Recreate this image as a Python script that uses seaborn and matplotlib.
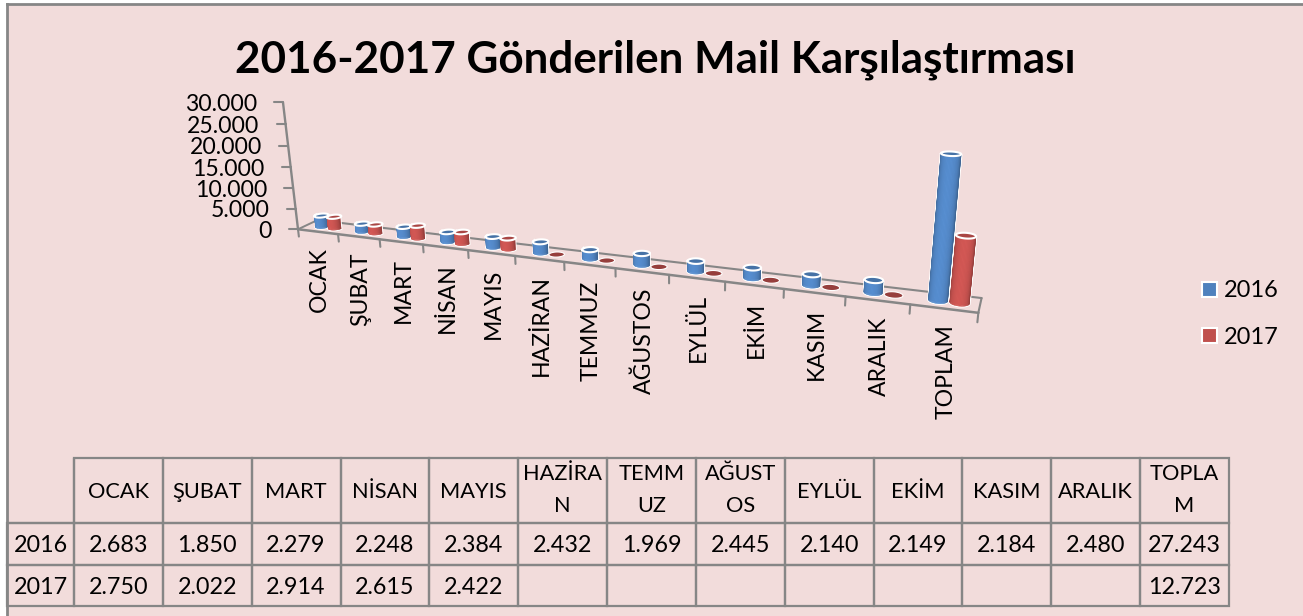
import numpy as np
import pandas as pd
import seaborn as sns
import matplotlib
matplotlib.use("Agg")
import matplotlib.pyplot as plt
from matplotlib.patches import Polygon, Patch
from matplotlib.transforms import Transform
from matplotlib.colors import to_rgb

# ---------- data ----------
months = ["OCAK", "ŞUBAT", "MART", "NİSAN", "MAYIS", "HAZİRAN", "TEMMUZ",
          "AĞUSTOS", "EYLÜL", "EKİM", "KASIM", "ARALIK", "TOPLAM"]
months_wrapped = ["OCAK", "ŞUBAT", "MART", "NİSAN", "MAYIS", "HAZİRA\nN", "TEMM\nUZ",
                  "AĞUST\nOS", "EYLÜL", "EKİM", "KASIM", "ARALIK", "TOPLA\nM"]
values_2016 = [2683, 1850, 2279, 2248, 2384, 2432, 1969, 2445, 2140, 2149, 2184, 2480, 27243]
values_2017 = [2750, 2022, 2914, 2615, 2422, None, None, None, None, None, None, None, 12723]
years = ["2016", "2017"]
y_ticks = [0, 5000, 10000, 15000, 20000, 25000, 30000]
title = "2016-2017 Gönderilen Mail Karşılaştırması"

# ---------- style ----------
W, H = 1303, 616
PINK, GRAY = "#F2DCDB", "#868686"
COLORS = ["#4F81BD", "#C0504D"]
sns.set_theme(style="white")
FONT = "Lato"
plt.rcParams["font.family"] = [FONT, "DejaVu Sans"]
TITLE_SIZE, AXIS_SIZE, TICK_SIZE, HEAD_SIZE, CELL_SIZE, LEGEND_SIZE = 31.7, 16.6, 16.6, 15.7, 16.8, 17


def fmt(v):
    return "" if v is None else f"{v:,}".replace(",", ".")


# ---------- perspective of the 3-D chart: (category pos, depth, value/max) -> pixel ----------
calib = [((0, 0, 0), (298, 230)), ((13, 0, 0), (979, 313)), ((0, 1, 0), (317, 222)),
         ((13, 1, 0), (983, 297)), ((12, 0, 0), (911, 305)), ((6, 0, 0), (564, 262)),
         ((0, 0, 1), (283, 102)), ((12.38, .5, .908), (952, 154)), ((12.7, .5, .424), (964, 236)),
         ((12.38, .5, 0), (938, 300)), ((12.7, .5, 0), (958, 303)), ((.38, .5, 0), (323, 224))]
A, b = [], []
for (t, d, z), (px, py) in calib:
    A.append([t, d, z, 1, 0, 0, 0, 0, -px * t, -px * d, -px * z]); b.append(px)
    A.append([0, 0, 0, 0, t, d, z, 1, -py * t, -py * d, -py * z]); b.append(py)
m = np.linalg.lstsq(np.array(A, float), np.array(b, float), rcond=None)[0]
P = np.array([m[:4], m[4:8], [m[8], m[9], m[10], 1.0]])


def project(t, d, z):
    t, d, z = np.broadcast_arrays(np.asarray(t, float), np.asarray(d, float), np.asarray(z, float))
    q = np.stack([t, d, z, np.ones_like(t)], axis=-1) @ P.T
    return q[..., :2] / q[..., 2:]


Y_MAX = y_ticks[-1]
T_SHIFT = 0.54   # the pair of columns sits slightly right of the category centre


class BarProjection(Transform):
    """Maps seaborn's bar coordinates (category x, value) on to the 3-D chart."""
    input_dims = output_dims = 2

    def transform_non_affine(self, values):
        v = np.asarray(values, float)
        return project(v[:, 0] + T_SHIFT, 0.5, v[:, 1] / Y_MAX)


# ---------- figure ----------
fig = plt.figure(figsize=(W / 100, H / 100), dpi=100, facecolor="white")
ax = fig.add_axes([7 / W, 0, (W - 7) / W, (H - 4) / H])
long = pd.DataFrame({
    "month": months * 2,
    "value": [v or 0 for v in values_2016] + [v or 0 for v in values_2017],
    "year": [years[0]] * len(months) + [years[1]] * len(months),
})
sns.barplot(data=long, x="month", y="value", hue="year", palette=COLORS, hue_order=years,
            order=months, width=0.64, gap=0.1, saturation=1, errorbar=None, legend=False, ax=ax)
ax.set_xlim(7, W); ax.set_ylim(H, 4)
ax.set_xticks([]); ax.set_yticks([]); ax.set_xlabel(""); ax.set_ylabel("")
ax.set_facecolor(PINK)
for s, vis in {"top": True, "left": True, "right": False, "bottom": False}.items():
    ax.spines[s].set_visible(vis); ax.spines[s].set_color(GRAY); ax.spines[s].set_linewidth(2)


def line3(p, q, lw=1.6, z=2):
    a, c = project(*p), project(*q)
    ax.plot([a[0], c[0]], [a[1], c[1]], color=GRAY, lw=lw, zorder=z, solid_capstyle="round")


# axes of the chart
n = len(months)
line3((0, 0, 0), (n, 0, 0), 1.8)
line3((0, 0, 0), (0, 1, 0), 1.4)
line3((0, 1, 0), (n, 1, 0), 1.5)
line3((n, 0, 0), (n, 1, 0), 1.5)
line3((0, 0, 0), (0, 0, 1), 1.7)
for i in range(n + 1):
    line3((i, 0, 0), (i, 0, -0.06), 1.5)
for i, name in enumerate(months):
    x, y = project(i + .5, 0, 0)
    ax.text(x + 2, y + 16, name, rotation=90, ha="center", va="top", fontsize=AXIS_SIZE, color="black")
for tick in y_ticks:
    x, y = project(0, 0, tick / Y_MAX)
    ax.plot([x, x - 9], [y, y], color=GRAY, lw=1.5, zorder=2)
    ax.text(x - 26, y, fmt(tick), ha="right", va="center_baseline", fontsize=TICK_SIZE, color="black")


# ---------- cylinders built around seaborn's bars ----------
def shade(col, f):
    c = np.array(to_rgb(col))
    return tuple(np.clip(c * f, 0, 1))


RD = 0.22
th = np.linspace(0, 2 * np.pi, 61)
front = np.linspace(np.pi, 2 * np.pi, 25)
order = 3
bars = sorted(ax.patches, key=lambda b: b.get_x())
proj_tr = BarProjection() + ax.transData
for bar in bars:
    r = bar.get_width() / 2
    cx = bar.get_x() + r + T_SHIFT
    z = bar.get_height() / Y_MAX
    col = bar.get_facecolor()[:3]
    order += 1
    if z == 0:
        bar.set_visible(False)
        disc = project(cx + r * np.cos(th), .5 + RD * np.sin(th), 0)
        ax.add_patch(Polygon(disc, closed=True, facecolor=shade(col, .78), edgecolor="white", lw=.8, zorder=order))
        continue
    base_f = project(cx + r * np.cos(front), .5 + RD * np.sin(front), 0)
    top_f = project(cx + r * np.cos(front), .5 + RD * np.sin(front), z)
    top_all = project(cx + r * np.cos(th), .5 + RD * np.sin(th), z)
    sil = np.vstack([base_f, top_f[::-1]])
    ax.add_patch(Polygon(sil, closed=True, facecolor=col, edgecolor="white", lw=1.8, zorder=order))
    bar.set_transform(proj_tr)
    bar.set_zorder(order + .1)
    bar.set_linewidth(0)
    for k in range(len(front) - 1):
        u = (k + .5) / (len(front) - 1)
        f = 0.74 + 0.36 * np.sin(np.pi * u) ** 0.8
        quad = np.vstack([base_f[k:k + 2], top_f[k:k + 2][::-1]])
        ax.add_patch(Polygon(quad, closed=True, facecolor=shade(col, f), edgecolor=shade(col, f),
                             lw=.3, zorder=order + .2))
    ax.add_patch(Polygon(top_all, closed=True, facecolor=shade(col, .88), edgecolor="white", lw=1.5, zorder=order + .3))
    order += 1

# ---------- title ----------
ax.text(655, 56, title, ha="center", va="center_baseline", fontsize=TITLE_SIZE, fontweight="bold", color="black")

# ---------- legend ----------
handles = [Patch(facecolor=c, edgecolor="white", lw=1.5, label=y) for c, y in zip(COLORS, years)]
ax.legend(handles=handles, loc="center left", bbox_to_anchor=(1202, 314), bbox_transform=ax.transData,
          frameon=False, fontsize=LEGEND_SIZE, handlelength=.62, handleheight=.62, handletextpad=.3,
          labelspacing=1.06, borderpad=0, borderaxespad=0, labelcolor="black")

# ---------- data table ----------
rows = [[""] + months_wrapped,
        [years[0]] + [fmt(v) for v in values_2016],
        [years[1]] + [fmt(v) for v in values_2017]]
x_edges = (7, 74, 1229)
y_edges = [458, 523, 565, 606]
ax_w, ax_h = W - 7, H - 4
bbox = [(x_edges[0] - 7) / ax_w, (H - y_edges[-1]) / ax_h,
        (x_edges[2] - x_edges[0]) / ax_w, (y_edges[-1] - y_edges[0]) / ax_h]
col_w = [x_edges[1] - x_edges[0]] + [(x_edges[2] - x_edges[1]) / n] * n
tab = ax.table(cellText=rows, cellLoc="center", colWidths=col_w, bbox=bbox, zorder=3)
tab.auto_set_font_size(False)
for (r, c), cell in tab.get_celld().items():
    cell.set_height(y_edges[r + 1] - y_edges[r])
    cell.set_facecolor("none")
    cell.set_edgecolor(GRAY)
    cell.set_linewidth(1.6)
    txt = cell.get_text()
    txt.set_fontsize(HEAD_SIZE if r == 0 else CELL_SIZE)
    txt.set_color("black")
    txt.set_linespacing(1.75)
    txt.set_verticalalignment("center" if "\n" in txt.get_text() else "center_baseline")
    cell.PAD = 0.02
    if (r, c) == (0, 0):
        cell.visible_edges = "BR"

fig.savefig("out.png", dpi=100, facecolor="white")
